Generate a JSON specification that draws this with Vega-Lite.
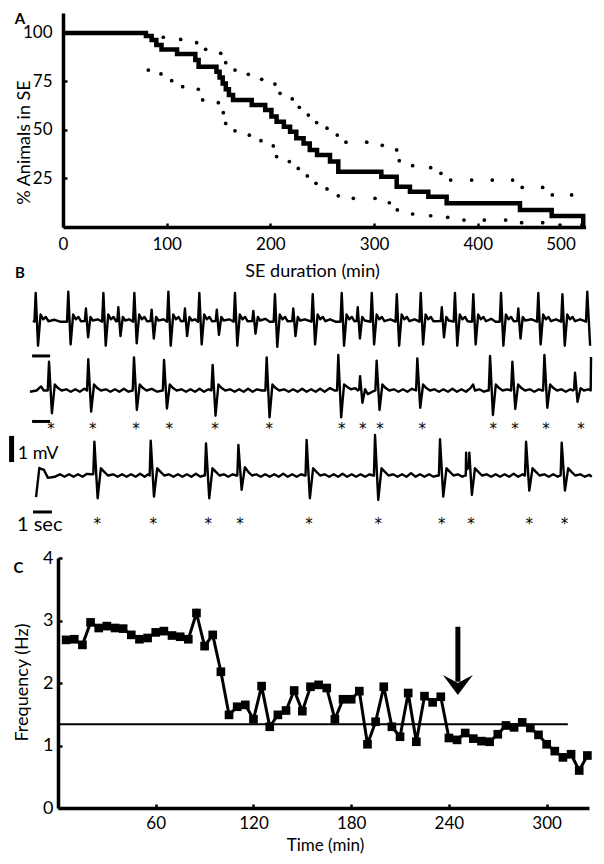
{
"$schema":"https://vega.github.io/schema/vega-lite/v6.json",
"width":604,"height":864,"autosize":"none","padding":0,"background":"white",
"config":{"view":{"stroke":null},"font":"Lato","axis":{"grid":false,"domainColor":"black","tickColor":"black","labelColor":"black","titleColor":"black","labelFont":"Lato","titleFont":"Lato","titleFontWeight":"normal","labelFlush":false,"labelOverlap":false}},
"datasets":{
"surv":[{"min":0,"pct":100},{"min":80,"pct":98.4},{"min":85.5,"pct":96.4},{"min":90,"pct":93.8},{"min":95,"pct":91.5},{"min":110,"pct":89.2},{"min":127.6,"pct":86.1},{"min":130.8,"pct":82.6},{"min":148,"pct":80},{"min":151,"pct":77},{"min":154,"pct":74},{"min":157,"pct":71},{"min":160,"pct":68},{"min":164,"pct":65.5},{"min":182,"pct":62.9},{"min":195,"pct":60.3},{"min":201,"pct":57},{"min":206,"pct":54.3},{"min":213,"pct":51.7},{"min":219,"pct":49.1},{"min":225,"pct":45.7},{"min":232,"pct":43.1},{"min":238,"pct":39.7},{"min":245,"pct":37.1},{"min":257.5,"pct":33.7},{"min":265.5,"pct":28.5},{"min":307,"pct":25.9},{"min":321.8,"pct":20.8},{"min":334.6,"pct":18.2},{"min":352.3,"pct":15.6},{"min":370,"pct":12.2},{"min":440.7,"pct":8.8},{"min":471.3,"pct":5.7},{"min":501.7,"pct":0}],
"bands":[{"b":"u","min":96.7,"pct":97.8},{"b":"u","min":113.5,"pct":96.7},{"b":"u","min":128.9,"pct":95},{"b":"u","min":137.6,"pct":91.6},{"b":"u","min":152.1,"pct":89.5},{"b":"u","min":156.9,"pct":84.7},{"b":"u","min":165.9,"pct":80.9},{"b":"u","min":178.7,"pct":78.7},{"b":"u","min":191.6,"pct":76.1},{"b":"u","min":204.4,"pct":73.7},{"b":"u","min":209.3,"pct":68.9},{"b":"u","min":221.1,"pct":66},{"b":"u","min":227.9,"pct":61.7},{"b":"u","min":236.6,"pct":57.7},{"b":"u","min":244.6,"pct":53.8},{"b":"u","min":254.6,"pct":50.9},{"b":"u","min":264.5,"pct":47.4},{"b":"u","min":272.9,"pct":43.7},{"b":"u","min":292.9,"pct":43.7},{"b":"u","min":307.9,"pct":42.1},{"b":"u","min":321.8,"pct":39.7},{"b":"u","min":324.3,"pct":34.2},{"b":"u","min":337.2,"pct":31.6},{"b":"u","min":354.6,"pct":30.6},{"b":"u","min":364.5,"pct":27.7},{"b":"u","min":373.9,"pct":24.2},{"b":"u","min":394.1,"pct":24.2},{"b":"u","min":414,"pct":24.2},{"b":"u","min":433.6,"pct":24.2},{"b":"u","min":442.9,"pct":20.4},{"b":"u","min":462.6,"pct":20.4},{"b":"u","min":471.9,"pct":16.5},{"b":"u","min":490.5,"pct":16.5},
{"b":"l","min":82.3,"pct":80.9},{"b":"l","min":94.5,"pct":78.9},{"b":"l","min":104.8,"pct":75.4},{"b":"l","min":115.4,"pct":72.3},{"b":"l","min":130.5,"pct":71},{"b":"l","min":134.7,"pct":65.5},{"b":"l","min":149.8,"pct":64.1},{"b":"l","min":154.6,"pct":58.9},{"b":"l","min":156.9,"pct":53.4},{"b":"l","min":165.9,"pct":49.6},{"b":"l","min":179.7,"pct":47.3},{"b":"l","min":190.9,"pct":44.5},{"b":"l","min":202.8,"pct":41.8},{"b":"l","min":206,"pct":36.3},{"b":"l","min":218.3,"pct":33.7},{"b":"l","min":226.9,"pct":30.2},{"b":"l","min":235.6,"pct":26.3},{"b":"l","min":244,"pct":22.5},{"b":"l","min":254.6,"pct":19.6},{"b":"l","min":265.5,"pct":16.1},{"b":"l","min":280,"pct":14.8},{"b":"l","min":300.9,"pct":14.8},{"b":"l","min":314.7,"pct":12.5},{"b":"l","min":322.4,"pct":8.8},{"b":"l","min":337.2,"pct":6.7},{"b":"l","min":354.6,"pct":5.8},{"b":"l","min":371,"pct":5},{"b":"l","min":386.7,"pct":3.6},{"b":"l","min":406.3,"pct":3.6},{"b":"l","min":426.9,"pct":3.6},{"b":"l","min":442.3,"pct":2.2},{"b":"l","min":462.6,"pct":2.2},{"b":"l","min":479.3,"pct":1}],
"tr":[
{"s":1,"t":0,"v":0.05},{"s":1,"t":0.08,"v":0},{"s":1,"t":0.15,"v":1.2},{"s":1,"t":0.28,"v":-1.0},{"s":1,"t":0.42,"v":0.3},{"s":1,"t":0.57,"v":0.1},{"s":1,"t":0.71,"v":0.2},{"s":1,"t":0.85,"v":0.02},{"s":1,"t":1.2,"v":0.08},{"s":1,"t":1.5,"v":0},
{"s":1,"t":1.89,"v":0},{"s":1,"t":1.96,"v":1.25},{"s":1,"t":2.09,"v":-0.95},{"s":1,"t":2.23,"v":0.3},{"s":1,"t":2.38,"v":0.1},{"s":1,"t":2.52,"v":0.2},{"s":1,"t":2.66,"v":0.02},
{"s":1,"t":2.88,"v":0.03},{"s":1,"t":2.94,"v":0.55},{"s":1,"t":3.06,"v":-0.65},{"s":1,"t":3.19,"v":0.2},{"s":1,"t":3.32,"v":0.05},{"s":1,"t":3.6,"v":0.1},
{"s":1,"t":3.84,"v":0},{"s":1,"t":3.91,"v":1.2},{"s":1,"t":4.04,"v":-1.0},{"s":1,"t":4.18,"v":0.3},{"s":1,"t":4.33,"v":0.1},{"s":1,"t":4.47,"v":0.2},{"s":1,"t":4.61,"v":0.02},
{"s":1,"t":4.68,"v":0.03},{"s":1,"t":4.74,"v":0.6},{"s":1,"t":4.86,"v":-0.6},{"s":1,"t":4.99,"v":0.2},{"s":1,"t":5.12,"v":0.05},{"s":1,"t":5.35,"v":0.1},
{"s":1,"t":5.56,"v":0},{"s":1,"t":5.63,"v":1.2},{"s":1,"t":5.76,"v":-0.9},{"s":1,"t":5.9,"v":0.3},{"s":1,"t":6.05,"v":0.1},{"s":1,"t":6.19,"v":0.2},{"s":1,"t":6.33,"v":0.02},
{"s":1,"t":6.53,"v":0.03},{"s":1,"t":6.59,"v":0.5},{"s":1,"t":6.71,"v":-0.7},{"s":1,"t":6.84,"v":0.2},{"s":1,"t":6.97,"v":0.05},{"s":1,"t":7.25,"v":0.1},
{"s":1,"t":7.45,"v":0},{"s":1,"t":7.52,"v":1.25},{"s":1,"t":7.65,"v":-1.0},{"s":1,"t":7.79,"v":0.3},{"s":1,"t":7.94,"v":0.1},{"s":1,"t":8.08,"v":0.2},{"s":1,"t":8.22,"v":0.02},
{"s":1,"t":8.38,"v":0.03},{"s":1,"t":8.44,"v":0.55},{"s":1,"t":8.56,"v":-0.6},{"s":1,"t":8.69,"v":0.2},{"s":1,"t":8.82,"v":0.05},{"s":1,"t":9.0,"v":0.1},
{"s":1,"t":9.17,"v":0},{"s":1,"t":9.24,"v":1.2},{"s":1,"t":9.37,"v":-0.95},{"s":1,"t":9.51,"v":0.3},{"s":1,"t":9.66,"v":0.1},{"s":1,"t":9.8,"v":0.2},{"s":1,"t":9.94,"v":0.02},
{"s":1,"t":10.15,"v":0.03},{"s":1,"t":10.21,"v":0.5},{"s":1,"t":10.33,"v":-0.55},{"s":1,"t":10.46,"v":0.2},{"s":1,"t":10.59,"v":0.05},{"s":1,"t":10.9,"v":0.1},
{"s":1,"t":11.15,"v":0},{"s":1,"t":11.22,"v":1.2},{"s":1,"t":11.35,"v":-1.0},{"s":1,"t":11.49,"v":0.3},{"s":1,"t":11.64,"v":0.1},{"s":1,"t":11.78,"v":0.2},{"s":1,"t":11.92,"v":0.02},
{"s":1,"t":12.18,"v":0.03},{"s":1,"t":12.24,"v":0.45},{"s":1,"t":12.36,"v":-0.5},{"s":1,"t":12.49,"v":0.2},{"s":1,"t":12.62,"v":0.05},{"s":1,"t":12.9,"v":0.12},{"s":1,"t":13.15,"v":0},
{"s":1,"t":13.37,"v":0},{"s":1,"t":13.44,"v":1.15},{"s":1,"t":13.57,"v":-1.05},{"s":1,"t":13.71,"v":0.3},{"s":1,"t":13.86,"v":0.1},{"s":1,"t":14.0,"v":0.2},{"s":1,"t":14.14,"v":0.02},
{"s":1,"t":14.4,"v":0.03},{"s":1,"t":14.46,"v":0.55},{"s":1,"t":14.58,"v":-0.6},{"s":1,"t":14.71,"v":0.2},{"s":1,"t":14.84,"v":0.05},{"s":1,"t":15.1,"v":0.1},
{"s":1,"t":15.47,"v":0},{"s":1,"t":15.54,"v":1.15},{"s":1,"t":15.67,"v":-0.95},{"s":1,"t":15.81,"v":0.3},{"s":1,"t":15.96,"v":0.1},{"s":1,"t":16.1,"v":0.2},{"s":1,"t":16.24,"v":0.02},{"s":1,"t":16.5,"v":0.1},{"s":1,"t":16.8,"v":0},
{"s":1,"t":17.08,"v":0},{"s":1,"t":17.15,"v":1.2},{"s":1,"t":17.28,"v":-1.0},{"s":1,"t":17.42,"v":0.3},{"s":1,"t":17.57,"v":0.1},{"s":1,"t":17.71,"v":0.2},{"s":1,"t":17.85,"v":0.02},
{"s":1,"t":17.98,"v":0.03},{"s":1,"t":18.04,"v":0.6},{"s":1,"t":18.16,"v":-0.7},{"s":1,"t":18.29,"v":0.2},{"s":1,"t":18.42,"v":0.05},
{"s":1,"t":18.75,"v":0},{"s":1,"t":18.82,"v":1.2},{"s":1,"t":18.95,"v":-0.95},{"s":1,"t":19.09,"v":0.3},{"s":1,"t":19.24,"v":0.1},{"s":1,"t":19.38,"v":0.2},{"s":1,"t":19.52,"v":0.02},{"s":1,"t":19.85,"v":0.1},
{"s":1,"t":20.14,"v":0},{"s":1,"t":20.21,"v":1.15},{"s":1,"t":20.34,"v":-1.0},{"s":1,"t":20.48,"v":0.3},{"s":1,"t":20.63,"v":0.1},{"s":1,"t":20.77,"v":0.2},{"s":1,"t":20.91,"v":0.02},{"s":1,"t":21.2,"v":0.1},
{"s":1,"t":21.47,"v":0},{"s":1,"t":21.54,"v":1.2},{"s":1,"t":21.67,"v":-0.95},{"s":1,"t":21.81,"v":0.3},{"s":1,"t":21.96,"v":0.1},{"s":1,"t":22.1,"v":0.2},{"s":1,"t":22.24,"v":0.02},
{"s":1,"t":22.65,"v":0.03},{"s":1,"t":22.71,"v":0.6},{"s":1,"t":22.83,"v":-0.65},{"s":1,"t":22.96,"v":0.2},{"s":1,"t":23.09,"v":0.05},
{"s":1,"t":23.37,"v":0},{"s":1,"t":23.44,"v":1.2},{"s":1,"t":23.57,"v":-1.0},{"s":1,"t":23.71,"v":0.3},{"s":1,"t":23.86,"v":0.1},{"s":1,"t":24.0,"v":0.2},{"s":1,"t":24.14,"v":0.02},
{"s":1,"t":24.39,"v":0},{"s":1,"t":24.46,"v":1.15},{"s":1,"t":24.59,"v":-0.95},{"s":1,"t":24.73,"v":0.3},{"s":1,"t":24.88,"v":0.1},{"s":1,"t":25.02,"v":0.2},{"s":1,"t":25.16,"v":0.02},{"s":1,"t":25.45,"v":0.12},{"s":1,"t":25.7,"v":0},
{"s":1,"t":25.93,"v":0},{"s":1,"t":26.0,"v":1.2},{"s":1,"t":26.13,"v":-1.0},{"s":1,"t":26.27,"v":0.3},{"s":1,"t":26.42,"v":0.1},{"s":1,"t":26.56,"v":0.2},{"s":1,"t":26.7,"v":0.02},
{"s":1,"t":26.9,"v":0.03},{"s":1,"t":26.96,"v":0.55},{"s":1,"t":27.08,"v":-0.7},{"s":1,"t":27.21,"v":0.2},{"s":1,"t":27.34,"v":0.05},{"s":1,"t":27.7,"v":0.1},
{"s":1,"t":28.0,"v":0},{"s":1,"t":28.07,"v":1.2},{"s":1,"t":28.2,"v":-0.95},{"s":1,"t":28.34,"v":0.3},{"s":1,"t":28.49,"v":0.1},{"s":1,"t":28.63,"v":0.2},{"s":1,"t":28.77,"v":0.02},{"s":1,"t":29.05,"v":0.1},
{"s":1,"t":29.34,"v":0},{"s":1,"t":29.41,"v":1.15},{"s":1,"t":29.54,"v":-1.0},{"s":1,"t":29.68,"v":0.3},{"s":1,"t":29.83,"v":0.1},{"s":1,"t":29.97,"v":0.2},{"s":1,"t":30.11,"v":0.02},{"s":1,"t":30.4,"v":0.1},
{"s":1,"t":30.72,"v":0},{"s":1,"t":30.79,"v":1.25},{"s":1,"t":30.95,"v":-1.0},

{"s":2,"t":-0.17,"v":0},{"s":2,"t":0.2,"v":0.05},{"s":2,"t":0.45,"v":0.22},{"s":2,"t":0.6,"v":0.05},
{"s":2,"t":0.82,"v":0.05},{"s":2,"t":0.89,"v":1.25},{"s":2,"t":1.05,"v":-0.9},{"s":2,"t":1.21,"v":0.3},{"s":2,"t":1.39,"v":0.15},{"s":2,"t":1.59,"v":0.05},
{"s":2,"t":1.85,"v":0.1},{"s":2,"t":2.1,"v":0},{"s":2,"t":2.35,"v":0.1},{"s":2,"t":2.6,"v":0},{"s":2,"t":2.85,"v":0.12},
{"s":2,"t":3.0,"v":0.05},{"s":2,"t":3.07,"v":1.35},{"s":2,"t":3.23,"v":-0.83},{"s":2,"t":3.39,"v":0.3},{"s":2,"t":3.57,"v":0.15},{"s":2,"t":3.77,"v":0.05},
{"s":2,"t":4.05,"v":0.1},{"s":2,"t":4.3,"v":0},{"s":2,"t":4.55,"v":0.1},{"s":2,"t":4.8,"v":0},{"s":2,"t":5.05,"v":0.12},{"s":2,"t":5.3,"v":0},
{"s":2,"t":5.54,"v":0.05},{"s":2,"t":5.61,"v":1.43},{"s":2,"t":5.77,"v":-0.76},{"s":2,"t":5.93,"v":0.3},{"s":2,"t":6.11,"v":0.15},{"s":2,"t":6.31,"v":0.05},{"s":2,"t":6.6,"v":0.12},{"s":2,"t":6.9,"v":0},
{"s":2,"t":7.21,"v":0.05},{"s":2,"t":7.28,"v":1.32},{"s":2,"t":7.44,"v":-0.7},{"s":2,"t":7.6,"v":0.3},{"s":2,"t":7.78,"v":0.15},{"s":2,"t":7.98,"v":0.05},
{"s":2,"t":8.25,"v":0.1},{"s":2,"t":8.5,"v":0},{"s":2,"t":8.75,"v":0.1},{"s":2,"t":9.0,"v":0},{"s":2,"t":9.25,"v":0.12},{"s":2,"t":9.5,"v":0},{"s":2,"t":9.75,"v":0.1},
{"s":2,"t":9.91,"v":0.05},{"s":2,"t":9.98,"v":1.11},{"s":2,"t":10.14,"v":-1.0},{"s":2,"t":10.3,"v":0.3},{"s":2,"t":10.48,"v":0.15},{"s":2,"t":10.68,"v":0.05},
{"s":2,"t":10.95,"v":0.1},{"s":2,"t":11.2,"v":0},{"s":2,"t":11.45,"v":0.1},{"s":2,"t":11.7,"v":0},{"s":2,"t":11.95,"v":0.12},{"s":2,"t":12.2,"v":0},{"s":2,"t":12.45,"v":0.1},{"s":2,"t":12.7,"v":0.05},
{"s":2,"t":12.91,"v":0.05},{"s":2,"t":12.98,"v":1.43},{"s":2,"t":13.14,"v":-1.07},{"s":2,"t":13.3,"v":0.3},{"s":2,"t":13.48,"v":0.15},{"s":2,"t":13.68,"v":0.05},
{"s":2,"t":13.95,"v":0.1},{"s":2,"t":14.2,"v":0},{"s":2,"t":14.45,"v":0.1},{"s":2,"t":14.7,"v":0},{"s":2,"t":14.95,"v":0.12},{"s":2,"t":15.2,"v":0},{"s":2,"t":15.45,"v":0.1},{"s":2,"t":15.7,"v":0},{"s":2,"t":15.95,"v":0.12},{"s":2,"t":16.2,"v":0},{"s":2,"t":16.5,"v":0.15},{"s":2,"t":16.75,"v":0.05},
{"s":2,"t":16.89,"v":0.05},{"s":2,"t":16.96,"v":1.53},{"s":2,"t":17.12,"v":-1.07},{"s":2,"t":17.28,"v":0.3},{"s":2,"t":17.46,"v":0.2},{"s":2,"t":17.66,"v":0.1},{"s":2,"t":17.9,"v":0.15},{"s":2,"t":18.05,"v":0.05},
{"s":2,"t":18.12,"v":0.1},{"s":2,"t":18.17,"v":0.65},{"s":2,"t":18.3,"v":-0.46},{"s":2,"t":18.45,"v":0.1},{"s":2,"t":18.6,"v":-0.1},{"s":2,"t":18.85,"v":0},
{"s":2,"t":19.02,"v":0.05},{"s":2,"t":19.09,"v":1.29},{"s":2,"t":19.25,"v":-0.76},{"s":2,"t":19.41,"v":0.3},{"s":2,"t":19.59,"v":0.15},{"s":2,"t":19.79,"v":0.05},
{"s":2,"t":20.05,"v":0.1},{"s":2,"t":20.3,"v":0},{"s":2,"t":20.55,"v":0.1},{"s":2,"t":20.8,"v":0},{"s":2,"t":21.05,"v":0.12},
{"s":2,"t":21.28,"v":0.05},{"s":2,"t":21.35,"v":1.39},{"s":2,"t":21.51,"v":-0.67},{"s":2,"t":21.67,"v":0.3},{"s":2,"t":21.85,"v":0.15},{"s":2,"t":22.05,"v":0.05},
{"s":2,"t":22.3,"v":0.1},{"s":2,"t":22.55,"v":0},{"s":2,"t":22.8,"v":0.1},{"s":2,"t":23.05,"v":0},{"s":2,"t":23.3,"v":0.12},{"s":2,"t":23.55,"v":0},{"s":2,"t":23.8,"v":0.1},{"s":2,"t":24.05,"v":0},{"s":2,"t":24.3,"v":0.15},{"s":2,"t":24.45,"v":0.3},{"s":2,"t":24.55,"v":0.05},{"s":2,"t":24.8,"v":0.1},{"s":2,"t":25.05,"v":0},{"s":2,"t":25.25,"v":0.05},
{"s":2,"t":25.32,"v":0.05},{"s":2,"t":25.39,"v":1.49},{"s":2,"t":25.55,"v":-0.97},{"s":2,"t":25.71,"v":0.3},{"s":2,"t":25.89,"v":0.15},{"s":2,"t":26.09,"v":0.05},{"s":2,"t":26.35,"v":0.1},
{"s":2,"t":26.56,"v":0.05},{"s":2,"t":26.63,"v":1.25},{"s":2,"t":26.79,"v":-0.72},{"s":2,"t":26.95,"v":0.3},{"s":2,"t":27.13,"v":0.15},{"s":2,"t":27.33,"v":0.05},
{"s":2,"t":27.6,"v":0.1},{"s":2,"t":27.85,"v":0},{"s":2,"t":28.1,"v":0.1},{"s":2,"t":28.3,"v":0.05},
{"s":2,"t":28.34,"v":0.05},{"s":2,"t":28.41,"v":1.53},{"s":2,"t":28.57,"v":-0.67},{"s":2,"t":28.73,"v":0.3},{"s":2,"t":28.91,"v":0.15},{"s":2,"t":29.11,"v":0.05},
{"s":2,"t":29.35,"v":0.1},{"s":2,"t":29.6,"v":0},{"s":2,"t":29.85,"v":0.1},{"s":2,"t":30.0,"v":0.05},
{"s":2,"t":30.06,"v":0.1},{"s":2,"t":30.11,"v":0.79},{"s":2,"t":30.25,"v":-0.42},{"s":2,"t":30.42,"v":0.15},{"s":2,"t":30.6,"v":0.05},{"s":2,"t":30.85,"v":0.1},{"s":2,"t":30.98,"v":0.05},{"s":2,"t":31.0,"v":1.45},

{"s":3,"t":0.17,"v":-0.85},{"s":3,"t":0.35,"v":0.36},{"s":3,"t":0.61,"v":0.28},{"s":3,"t":0.83,"v":-0.05},{"s":3,"t":1.22,"v":0},{"s":3,"t":1.5,"v":0.1},{"s":3,"t":1.75,"v":0},{"s":3,"t":2.0,"v":0.1},{"s":3,"t":2.25,"v":0},{"s":3,"t":2.5,"v":0.1},{"s":3,"t":2.75,"v":0},{"s":3,"t":3.0,"v":0.12},{"s":3,"t":3.2,"v":0.1},
{"s":3,"t":3.35,"v":0.1},{"s":3,"t":3.41,"v":1.46},{"s":3,"t":3.59,"v":-0.9},{"s":3,"t":3.77,"v":0.35},{"s":3,"t":3.96,"v":0.2},{"s":3,"t":4.16,"v":0.05},
{"s":3,"t":4.45,"v":0.1},{"s":3,"t":4.7,"v":0},{"s":3,"t":4.95,"v":0.1},{"s":3,"t":5.2,"v":0},{"s":3,"t":5.45,"v":0.1},{"s":3,"t":5.7,"v":0},{"s":3,"t":5.95,"v":0.12},{"s":3,"t":6.2,"v":0},{"s":3,"t":6.4,"v":0.1},
{"s":3,"t":6.48,"v":0.05},{"s":3,"t":6.54,"v":1.5},{"s":3,"t":6.72,"v":-0.83},{"s":3,"t":6.9,"v":0.35},{"s":3,"t":7.09,"v":0.2},{"s":3,"t":7.29,"v":0.05},
{"s":3,"t":7.55,"v":0.1},{"s":3,"t":7.8,"v":0},{"s":3,"t":8.05,"v":0.1},{"s":3,"t":8.3,"v":0},{"s":3,"t":8.55,"v":0.1},{"s":3,"t":8.8,"v":0},{"s":3,"t":9.05,"v":0.12},{"s":3,"t":9.3,"v":0},{"s":3,"t":9.5,"v":0.05},
{"s":3,"t":9.55,"v":0.05},{"s":3,"t":9.61,"v":1.39},{"s":3,"t":9.79,"v":-0.9},{"s":3,"t":9.97,"v":0.35},{"s":3,"t":10.16,"v":0.2},{"s":3,"t":10.36,"v":0.05},
{"s":3,"t":10.6,"v":0.1},{"s":3,"t":10.85,"v":0},{"s":3,"t":11.1,"v":0.1},{"s":3,"t":11.3,"v":0.05},
{"s":3,"t":11.35,"v":0.05},{"s":3,"t":11.41,"v":1.32},{"s":3,"t":11.59,"v":-0.55},{"s":3,"t":11.77,"v":0.4},{"s":3,"t":11.96,"v":0.2},{"s":3,"t":12.16,"v":0.05},
{"s":3,"t":12.4,"v":0.1},{"s":3,"t":12.65,"v":0},{"s":3,"t":12.9,"v":0.1},{"s":3,"t":13.15,"v":0},{"s":3,"t":13.4,"v":0.1},{"s":3,"t":13.65,"v":0},{"s":3,"t":13.9,"v":0.12},{"s":3,"t":14.15,"v":0},{"s":3,"t":14.4,"v":0.1},{"s":3,"t":14.65,"v":0},{"s":3,"t":14.9,"v":0.1},{"s":3,"t":15.1,"v":0.05},
{"s":3,"t":15.14,"v":0.05},{"s":3,"t":15.2,"v":1.53},{"s":3,"t":15.38,"v":-0.9},{"s":3,"t":15.56,"v":0.35},{"s":3,"t":15.75,"v":0.2},{"s":3,"t":15.95,"v":0.05},
{"s":3,"t":16.2,"v":0.1},{"s":3,"t":16.45,"v":0},{"s":3,"t":16.7,"v":0.1},{"s":3,"t":16.95,"v":0},{"s":3,"t":17.2,"v":0.12},{"s":3,"t":17.45,"v":0},{"s":3,"t":17.7,"v":0.1},{"s":3,"t":17.95,"v":0},{"s":3,"t":18.2,"v":0.1},{"s":3,"t":18.45,"v":0},{"s":3,"t":18.7,"v":0.1},{"s":3,"t":18.9,"v":0.05},
{"s":3,"t":18.94,"v":0.05},{"s":3,"t":19.0,"v":1.74},{"s":3,"t":19.18,"v":-0.97},{"s":3,"t":19.36,"v":0.35},{"s":3,"t":19.55,"v":0.2},{"s":3,"t":19.75,"v":0.05},
{"s":3,"t":20.0,"v":0.1},{"s":3,"t":20.25,"v":0},{"s":3,"t":20.5,"v":0.1},{"s":3,"t":20.75,"v":0},{"s":3,"t":21.0,"v":0.15},{"s":3,"t":21.25,"v":0},{"s":3,"t":21.5,"v":0.1},{"s":3,"t":21.75,"v":0},{"s":3,"t":22.0,"v":0.1},{"s":3,"t":22.25,"v":0},{"s":3,"t":22.5,"v":0.05},
{"s":3,"t":22.55,"v":0.05},{"s":3,"t":22.61,"v":1.56},{"s":3,"t":22.79,"v":-0.83},{"s":3,"t":22.97,"v":0.35},{"s":3,"t":23.16,"v":0.2},{"s":3,"t":23.36,"v":0.05},
{"s":3,"t":23.6,"v":0.1},{"s":3,"t":23.85,"v":0},{"s":3,"t":24.0,"v":0.05},
{"s":3,"t":24.04,"v":0.05},{"s":3,"t":24.06,"v":1.0},{"s":3,"t":24.1,"v":0.3},{"s":3,"t":24.22,"v":0.4},{"s":3,"t":24.24,"v":1.0},{"s":3,"t":24.38,"v":-0.76},{"s":3,"t":24.55,"v":0.35},{"s":3,"t":24.74,"v":0.2},{"s":3,"t":24.94,"v":0.05},
{"s":3,"t":25.2,"v":0.1},{"s":3,"t":25.45,"v":0},{"s":3,"t":25.7,"v":0.1},{"s":3,"t":25.95,"v":0},{"s":3,"t":26.2,"v":0.1},{"s":3,"t":26.45,"v":0},{"s":3,"t":26.7,"v":0.12},{"s":3,"t":26.95,"v":0},{"s":3,"t":27.2,"v":0.1},{"s":3,"t":27.3,"v":0.05},
{"s":3,"t":27.33,"v":0.05},{"s":3,"t":27.39,"v":1.46},{"s":3,"t":27.57,"v":-0.58},{"s":3,"t":27.75,"v":0.35},{"s":3,"t":27.94,"v":0.2},{"s":3,"t":28.14,"v":0.05},
{"s":3,"t":28.4,"v":0.1},{"s":3,"t":28.65,"v":0},{"s":3,"t":28.9,"v":0.1},{"s":3,"t":29.15,"v":0},{"s":3,"t":29.3,"v":0.05},
{"s":3,"t":29.31,"v":0.05},{"s":3,"t":29.37,"v":1.42},{"s":3,"t":29.55,"v":-0.58},{"s":3,"t":29.73,"v":0.35},{"s":3,"t":29.92,"v":0.2},{"s":3,"t":30.12,"v":0.05},
{"s":3,"t":30.4,"v":0.1},{"s":3,"t":30.65,"v":0},{"s":3,"t":30.9,"v":0.08},{"s":3,"t":31.04,"v":0}
],
"stars":[{"s":2,"t":1.0},{"s":2,"t":3.32},{"s":2,"t":5.72},{"s":2,"t":7.57},{"s":2,"t":10.11},{"s":2,"t":13.13},{"s":2,"t":17.15},{"s":2,"t":18.32},{"s":2,"t":19.28},{"s":2,"t":21.63},{"s":2,"t":25.57},{"s":2,"t":26.78},{"s":2,"t":28.5},{"s":2,"t":30.44},
{"s":3,"t":3.57},{"s":3,"t":6.68},{"s":3,"t":9.74},{"s":3,"t":11.5},{"s":3,"t":15.33},{"s":3,"t":19.18},{"s":3,"t":22.71},{"s":3,"t":24.33},{"s":3,"t":27.57},{"s":3,"t":29.52}],
"freq":[{"t":5,"hz":2.69},{"t":10,"hz":2.7},{"t":15,"hz":2.61},{"t":20,"hz":2.97},{"t":25,"hz":2.88},{"t":30,"hz":2.91},{"t":35,"hz":2.88},{"t":40,"hz":2.87},{"t":45,"hz":2.77},{"t":50,"hz":2.7},{"t":55,"hz":2.72},{"t":60,"hz":2.81},{"t":65,"hz":2.83},{"t":70,"hz":2.76},{"t":75,"hz":2.74},{"t":80,"hz":2.7},{"t":85,"hz":3.12},{"t":90,"hz":2.59},{"t":95,"hz":2.77},{"t":100,"hz":2.18},{"t":105,"hz":1.49},{"t":110,"hz":1.62},{"t":115,"hz":1.65},{"t":120,"hz":1.42},{"t":125,"hz":1.95},{"t":130,"hz":1.3},{"t":135,"hz":1.49},{"t":140,"hz":1.56},{"t":145,"hz":1.88},{"t":150,"hz":1.55},{"t":155,"hz":1.94},{"t":160,"hz":1.97},{"t":165,"hz":1.92},{"t":170,"hz":1.42},{"t":175,"hz":1.74},{"t":180,"hz":1.74},{"t":185,"hz":1.87},{"t":190,"hz":1.02},{"t":195,"hz":1.38},{"t":200,"hz":1.94},{"t":205,"hz":1.3},{"t":210,"hz":1.14},{"t":215,"hz":1.84},{"t":220,"hz":1.06},{"t":225,"hz":1.79},{"t":230,"hz":1.69},{"t":235,"hz":1.78},{"t":240,"hz":1.12},{"t":245,"hz":1.09},{"t":250,"hz":1.2},{"t":255,"hz":1.11},{"t":260,"hz":1.07},{"t":265,"hz":1.06},{"t":270,"hz":1.18},{"t":275,"hz":1.32},{"t":280,"hz":1.29},{"t":285,"hz":1.37},{"t":290,"hz":1.28},{"t":295,"hz":1.17},{"t":300,"hz":1.02},{"t":305,"hz":0.91},{"t":310,"hz":0.81},{"t":315,"hz":0.86},{"t":320,"hz":0.6},{"t":325,"hz":0.84}]
},
"layer":[
{"layer":[
 {"data":{"name":"bands"},"mark":{"type":"point","filled":true,"color":"black","size":14,"opacity":1},
  "encoding":{
   "x":{"field":"min","type":"quantitative","scale":{"domain":[0,504],"range":[63,585.6],"nice":false,"zero":false},
     "axis":{"orient":"bottom","offset":-637,"values":[0,100,200,300,400,500],"title":"SE duration (min)","titleX":312,"titleY":44,"titleBaseline":"middle","titleAlign":"center","titleFontSize":18,"labelFontSize":17,"labelPadding":13,"tickSize":-4,"tickWidth":2.5,"domainWidth":3.5,"labelOffset":{"condition":{"test":"datum.value == 500","value":-21},"value":0}}},
   "y":{"field":"pct","type":"quantitative","scale":{"domain":[0,110.3],"range":[227,13],"nice":false,"zero":false},
     "axis":{"orient":"left","offset":-63,"values":[25,50,75,100],"title":"% Animals in SE","titleX":-39,"titleY":142,"titleAngle":-90,"titleBaseline":"middle","titleAlign":"center","titleFontSize":18,"labelFontSize":17,"labelPadding":15,"tickSize":-4,"tickWidth":2.5,"domainWidth":3.5}}}},
 {"data":{"name":"surv"},"mark":{"type":"line","interpolate":"step-after","color":"black","strokeWidth":4.5},
  "encoding":{"x":{"field":"min","type":"quantitative"},"y":{"field":"pct","type":"quantitative"}}},
 {"data":{"values":[{"lab":"A"}]},"mark":{"type":"text","fontWeight":"bold","fontSize":15,"align":"center","baseline":"alphabetic","color":"black"},
  "encoding":{"x":{"datum":-41.5},"y":{"datum":104.8},"text":{"field":"lab"}}},
 {"data":{"values":[{"lab":"B"}]},"mark":{"type":"text","fontWeight":"bold","fontSize":15,"align":"center","baseline":"alphabetic","color":"black"},
  "encoding":{"x":{"datum":-41.5},"y":{"datum":-26.3},"text":{"field":"lab"}}}
]},
{"layer":[
 {"data":{"name":"tr"},"transform":[{"filter":"datum.s == 1"}],"mark":{"type":"line","color":"black","strokeWidth":2.4,"strokeJoin":"round"},
  "encoding":{"x":{"field":"t","type":"quantitative","scale":{"domain":[0,31.22],"range":[33,595],"nice":false,"zero":false},"axis":null},
   "y":{"field":"v","type":"quantitative","scale":{"domain":[-1,1],"range":[345.7,297.7],"nice":false,"zero":false},"axis":null}}},
 {"layer":[
  {"data":{"name":"tr"},"transform":[{"filter":"datum.s == 2"}],"mark":{"type":"line","color":"black","strokeWidth":2.4,"strokeJoin":"round"},
   "encoding":{"x":{"field":"t","type":"quantitative","scale":{"domain":[0,31.22],"range":[33,595],"nice":false,"zero":false},"axis":null},
    "y":{"field":"v","type":"quantitative","scale":{"domain":[-1,1],"range":[415.7,367.7],"nice":false,"zero":false},"axis":null}}},
  {"data":{"values":[{}]},"mark":{"type":"rule","color":"black","strokeWidth":3},
   "encoding":{"x":{"datum":-0.05},"x2":{"datum":0.95},"y":{"datum":1.49}}},
  {"data":{"values":[{}]},"mark":{"type":"rule","color":"black","strokeWidth":3},
   "encoding":{"x":{"datum":-0.05},"x2":{"datum":0.95},"y":{"datum":-1.24}}},
  {"data":{"name":"stars"},"transform":[{"filter":"datum.s == 2"}],"mark":{"type":"text","font":"DejaVu Sans","fontSize":15,"align":"center","baseline":"alphabetic","color":"black"},
   "encoding":{"x":{"field":"t","type":"quantitative"},"y":{"datum":-1.75},"text":{"value":"*"}}}
 ]},
 {"layer":[
  {"data":{"name":"tr"},"transform":[{"filter":"datum.s == 3"}],"mark":{"type":"line","color":"black","strokeWidth":2.4,"strokeJoin":"round"},
   "encoding":{"x":{"field":"t","type":"quantitative","scale":{"domain":[0,31.22],"range":[33,595],"nice":false,"zero":false},"axis":null},
    "y":{"field":"v","type":"quantitative","scale":{"domain":[-1,1],"range":[500.7,452.7],"nice":false,"zero":false},"axis":null}}},
  {"data":{"values":[{}]},"mark":{"type":"rule","color":"black","strokeWidth":3},
   "encoding":{"x":{"datum":0},"x2":{"datum":1.05},"y":{"datum":-1.47}}},
  {"data":{"values":[{}]},"mark":{"type":"rule","color":"black","strokeWidth":5},
   "encoding":{"x":{"datum":-1.19},"y":{"datum":1.7},"y2":{"datum":0.61}}},
  {"data":{"values":[{"lab":"1 mV"}]},"mark":{"type":"text","fontSize":18,"align":"left","baseline":"alphabetic","color":"black"},
   "encoding":{"x":{"datum":-0.85},"y":{"datum":0.72},"text":{"field":"lab"}}},
  {"data":{"values":[{"lab":"1 sec"}]},"mark":{"type":"text","fontSize":20,"align":"left","baseline":"alphabetic","color":"black"},
   "encoding":{"x":{"datum":-0.89},"y":{"datum":-2.26},"text":{"field":"lab"}}},
  {"data":{"name":"stars"},"transform":[{"filter":"datum.s == 3"}],"mark":{"type":"text","font":"DejaVu Sans","fontSize":15,"align":"center","baseline":"alphabetic","color":"black"},
   "encoding":{"x":{"field":"t","type":"quantitative"},"y":{"datum":-2.18},"text":{"value":"*"}}}
 ]}
],
"resolve":{"scale":{"y":"independent"}}},
{"layer":[
 {"data":{"name":"freq"},"mark":{"type":"line","color":"black","strokeWidth":3},
  "encoding":{
   "x":{"field":"t","type":"quantitative","scale":{"domain":[0,326],"range":[58,589],"nice":false,"zero":false},
     "axis":{"orient":"bottom","offset":-56,"values":[60,120,180,240,300],"title":"Time (min)","titleX":325,"titleY":37,"titleBaseline":"middle","titleAlign":"center","titleFontSize":17,"labelFontSize":17,"labelPadding":11,"tickSize":-4,"tickWidth":2.5,"domainWidth":3.5}},
   "y":{"field":"hz","type":"quantitative","scale":{"domain":[0,4],"range":[808,558],"nice":false,"zero":false},
     "axis":{"orient":"left","offset":-58,"values":[0,1,2,3,4],"format":"d","title":"Frequency (Hz)","titleX":-36,"titleY":682,"titleAngle":-90,"titleBaseline":"middle","titleAlign":"center","titleFontSize":18,"labelFontSize":18,"labelPadding":9,"tickSize":-4,"tickWidth":2.5,"domainWidth":3.5}}}},
 {"data":{"name":"freq"},"mark":{"type":"point","shape":"square","filled":true,"color":"black","size":75,"opacity":1},
  "encoding":{"x":{"field":"t","type":"quantitative"},"y":{"field":"hz","type":"quantitative"}}},
 {"data":{"values":[{}]},"mark":{"type":"rule","color":"black","strokeWidth":1.8},
  "encoding":{"x":{"datum":0},"x2":{"datum":313},"y":{"datum":1.34}}},
 {"data":{"values":[{}]},"mark":{"type":"rule","color":"black","strokeWidth":5},
  "encoding":{"x":{"datum":245.5},"y":{"datum":2.9},"y2":{"datum":2.02}}},
 {"data":{"values":[{}]},"mark":{"type":"point","shape":"M0,1L-1,-0.33L0,0.2L1,-0.33Z","filled":true,"color":"black","size":900,"opacity":1},
  "encoding":{"x":{"datum":245.5},"y":{"datum":2.05}}},
 {"data":{"values":[{"lab":"C"}]},"mark":{"type":"text","fontWeight":"bold","fontSize":15,"align":"center","baseline":"alphabetic","color":"black"},
  "encoding":{"x":{"datum":-24.2},"y":{"datum":3.76},"text":{"field":"lab"}}}
]}
],
"resolve":{"scale":{"x":"independent","y":"independent"}}
}
